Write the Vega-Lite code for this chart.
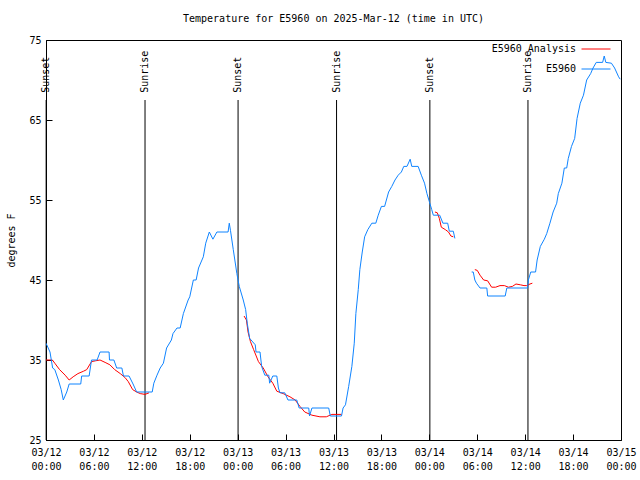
{
  "$schema": "https://vega.github.io/schema/vega-lite/v6.json",
  "width": 575,
  "height": 400,
  "autosize": {"type": "none"},
  "padding": {"left": 46, "top": 40, "right": 19, "bottom": 40},
  "title": {"text": "Temperature for E5960 on 2025-Mar-12 (time in UTC)", "font": "DejaVu Sans Mono", "fontSize": 10, "fontWeight": "normal", "color": "black", "offset": 10, "anchor": "middle"},
  "config": {
    "view": {"stroke": "black", "strokeWidth": 1},
    "axis": {"labelFont": "DejaVu Sans Mono", "labelFontSize": 10, "labelColor": "black", "titleFont": "DejaVu Sans Mono", "titleFontSize": 10, "titleFontWeight": "normal", "titleColor": "black", "domainColor": "black", "tickColor": "black", "grid": false},
    "legend": {"labelFont": "DejaVu Sans Mono", "labelFontSize": 10, "labelColor": "black"}
  },
  "datasets": {
    "sun": [
      {"t": "2025-03-12T00:01Z", "event": "Sunset"},
      {"t": "2025-03-12T12:24Z", "event": "Sunrise"},
      {"t": "2025-03-13T00:03Z", "event": "Sunset"},
      {"t": "2025-03-13T12:23Z", "event": "Sunrise"},
      {"t": "2025-03-14T00:04Z", "event": "Sunset"},
      {"t": "2025-03-14T12:21Z", "event": "Sunrise"}
    ],
    "analysis": [
      {"t": "2025-03-12T00:00Z", "v": 35.0, "seg": 1},
      {"t": "2025-03-12T00:48Z", "v": 35.0, "seg": 1},
      {"t": "2025-03-12T01:06Z", "v": 34.6, "seg": 1},
      {"t": "2025-03-12T01:42Z", "v": 33.8, "seg": 1},
      {"t": "2025-03-12T02:24Z", "v": 33.1, "seg": 1},
      {"t": "2025-03-12T02:54Z", "v": 32.5, "seg": 1},
      {"t": "2025-03-12T03:24Z", "v": 32.9, "seg": 1},
      {"t": "2025-03-12T04:00Z", "v": 33.3, "seg": 1},
      {"t": "2025-03-12T04:42Z", "v": 33.6, "seg": 1},
      {"t": "2025-03-12T05:06Z", "v": 33.8, "seg": 1},
      {"t": "2025-03-12T05:42Z", "v": 34.8, "seg": 1},
      {"t": "2025-03-12T06:12Z", "v": 34.9, "seg": 1},
      {"t": "2025-03-12T06:46Z", "v": 35.0, "seg": 1},
      {"t": "2025-03-12T07:24Z", "v": 34.7, "seg": 1},
      {"t": "2025-03-12T08:00Z", "v": 34.4, "seg": 1},
      {"t": "2025-03-12T08:36Z", "v": 33.8, "seg": 1},
      {"t": "2025-03-12T09:18Z", "v": 33.3, "seg": 1},
      {"t": "2025-03-12T09:54Z", "v": 32.8, "seg": 1},
      {"t": "2025-03-12T10:18Z", "v": 32.3, "seg": 1},
      {"t": "2025-03-12T10:51Z", "v": 31.3, "seg": 1},
      {"t": "2025-03-12T11:21Z", "v": 31.0, "seg": 1},
      {"t": "2025-03-12T11:48Z", "v": 30.8, "seg": 1},
      {"t": "2025-03-12T12:24Z", "v": 30.7, "seg": 1},
      {"t": "2025-03-12T12:54Z", "v": 30.9, "seg": 1},
      {"t": "2025-03-13T00:48Z", "v": 40.5, "seg": 2},
      {"t": "2025-03-13T01:06Z", "v": 40.0, "seg": 2},
      {"t": "2025-03-13T01:18Z", "v": 38.5, "seg": 2},
      {"t": "2025-03-13T01:36Z", "v": 37.3, "seg": 2},
      {"t": "2025-03-13T02:00Z", "v": 36.3, "seg": 2},
      {"t": "2025-03-13T02:36Z", "v": 34.8, "seg": 2},
      {"t": "2025-03-13T03:12Z", "v": 34.0, "seg": 2},
      {"t": "2025-03-13T03:48Z", "v": 32.9, "seg": 2},
      {"t": "2025-03-13T04:24Z", "v": 32.1, "seg": 2},
      {"t": "2025-03-13T04:54Z", "v": 31.1, "seg": 2},
      {"t": "2025-03-13T05:42Z", "v": 30.8, "seg": 2},
      {"t": "2025-03-13T06:33Z", "v": 30.4, "seg": 2},
      {"t": "2025-03-13T07:12Z", "v": 30.0, "seg": 2},
      {"t": "2025-03-13T07:48Z", "v": 29.2, "seg": 2},
      {"t": "2025-03-13T08:24Z", "v": 28.5, "seg": 2},
      {"t": "2025-03-13T09:18Z", "v": 28.1, "seg": 2},
      {"t": "2025-03-13T10:18Z", "v": 27.9, "seg": 2},
      {"t": "2025-03-13T11:06Z", "v": 27.9, "seg": 2},
      {"t": "2025-03-13T11:48Z", "v": 28.2, "seg": 2},
      {"t": "2025-03-13T13:00Z", "v": 28.2, "seg": 2},
      {"t": "2025-03-14T00:42Z", "v": 53.5, "seg": 3},
      {"t": "2025-03-14T01:00Z", "v": 53.4, "seg": 3},
      {"t": "2025-03-14T01:15Z", "v": 52.7, "seg": 3},
      {"t": "2025-03-14T01:30Z", "v": 51.6, "seg": 3},
      {"t": "2025-03-14T02:00Z", "v": 51.3, "seg": 3},
      {"t": "2025-03-14T02:24Z", "v": 51.0, "seg": 3},
      {"t": "2025-03-14T02:42Z", "v": 50.5, "seg": 3},
      {"t": "2025-03-14T03:00Z", "v": 50.4, "seg": 3},
      {"t": "2025-03-14T05:42Z", "v": 46.3, "seg": 4},
      {"t": "2025-03-14T06:00Z", "v": 46.2, "seg": 4},
      {"t": "2025-03-14T06:21Z", "v": 45.6, "seg": 4},
      {"t": "2025-03-14T06:48Z", "v": 45.0, "seg": 4},
      {"t": "2025-03-14T07:18Z", "v": 44.9, "seg": 4},
      {"t": "2025-03-14T07:48Z", "v": 44.1, "seg": 4},
      {"t": "2025-03-14T08:18Z", "v": 44.1, "seg": 4},
      {"t": "2025-03-14T08:51Z", "v": 44.3, "seg": 4},
      {"t": "2025-03-14T09:24Z", "v": 44.3, "seg": 4},
      {"t": "2025-03-14T09:54Z", "v": 44.1, "seg": 4},
      {"t": "2025-03-14T10:24Z", "v": 44.2, "seg": 4},
      {"t": "2025-03-14T10:51Z", "v": 44.5, "seg": 4},
      {"t": "2025-03-14T11:24Z", "v": 44.4, "seg": 4},
      {"t": "2025-03-14T11:51Z", "v": 44.3, "seg": 4},
      {"t": "2025-03-14T12:12Z", "v": 44.3, "seg": 4},
      {"t": "2025-03-14T12:36Z", "v": 44.5, "seg": 4},
      {"t": "2025-03-14T12:54Z", "v": 44.6, "seg": 4}
    ],
    "obs": [
      {"t": "2025-03-12T00:00Z", "v": 37.1, "seg": 1},
      {"t": "2025-03-12T00:30Z", "v": 36.0, "seg": 1},
      {"t": "2025-03-12T00:50Z", "v": 34.0, "seg": 1},
      {"t": "2025-03-12T01:06Z", "v": 33.8, "seg": 1},
      {"t": "2025-03-12T01:33Z", "v": 32.5, "seg": 1},
      {"t": "2025-03-12T01:54Z", "v": 31.3, "seg": 1},
      {"t": "2025-03-12T02:10Z", "v": 30.0, "seg": 1},
      {"t": "2025-03-12T02:36Z", "v": 31.0, "seg": 1},
      {"t": "2025-03-12T02:54Z", "v": 32.0, "seg": 1},
      {"t": "2025-03-12T04:21Z", "v": 32.0, "seg": 1},
      {"t": "2025-03-12T04:28Z", "v": 33.0, "seg": 1},
      {"t": "2025-03-12T05:24Z", "v": 33.0, "seg": 1},
      {"t": "2025-03-12T05:42Z", "v": 35.0, "seg": 1},
      {"t": "2025-03-12T06:24Z", "v": 35.0, "seg": 1},
      {"t": "2025-03-12T06:46Z", "v": 36.0, "seg": 1},
      {"t": "2025-03-12T07:54Z", "v": 36.0, "seg": 1},
      {"t": "2025-03-12T07:57Z", "v": 35.0, "seg": 1},
      {"t": "2025-03-12T08:30Z", "v": 35.0, "seg": 1},
      {"t": "2025-03-12T08:51Z", "v": 34.0, "seg": 1},
      {"t": "2025-03-12T09:30Z", "v": 34.0, "seg": 1},
      {"t": "2025-03-12T09:42Z", "v": 33.0, "seg": 1},
      {"t": "2025-03-12T10:24Z", "v": 33.0, "seg": 1},
      {"t": "2025-03-12T10:54Z", "v": 32.0, "seg": 1},
      {"t": "2025-03-12T11:21Z", "v": 31.0, "seg": 1},
      {"t": "2025-03-12T13:18Z", "v": 31.0, "seg": 1},
      {"t": "2025-03-12T13:30Z", "v": 32.1, "seg": 1},
      {"t": "2025-03-12T13:54Z", "v": 33.1, "seg": 1},
      {"t": "2025-03-12T14:18Z", "v": 34.0, "seg": 1},
      {"t": "2025-03-12T14:42Z", "v": 34.6, "seg": 1},
      {"t": "2025-03-12T15:06Z", "v": 36.5, "seg": 1},
      {"t": "2025-03-12T15:42Z", "v": 37.5, "seg": 1},
      {"t": "2025-03-12T15:54Z", "v": 38.3, "seg": 1},
      {"t": "2025-03-12T16:24Z", "v": 39.0, "seg": 1},
      {"t": "2025-03-12T16:48Z", "v": 39.0, "seg": 1},
      {"t": "2025-03-12T17:12Z", "v": 40.8, "seg": 1},
      {"t": "2025-03-12T17:48Z", "v": 42.5, "seg": 1},
      {"t": "2025-03-12T18:00Z", "v": 42.9, "seg": 1},
      {"t": "2025-03-12T18:27Z", "v": 45.0, "seg": 1},
      {"t": "2025-03-12T18:48Z", "v": 45.0, "seg": 1},
      {"t": "2025-03-12T19:06Z", "v": 46.5, "seg": 1},
      {"t": "2025-03-12T19:42Z", "v": 47.9, "seg": 1},
      {"t": "2025-03-12T20:00Z", "v": 49.6, "seg": 1},
      {"t": "2025-03-12T20:27Z", "v": 51.0, "seg": 1},
      {"t": "2025-03-12T20:54Z", "v": 50.1, "seg": 1},
      {"t": "2025-03-12T21:24Z", "v": 51.0, "seg": 1},
      {"t": "2025-03-12T22:48Z", "v": 51.0, "seg": 1},
      {"t": "2025-03-12T22:57Z", "v": 52.1, "seg": 1},
      {"t": "2025-03-12T23:06Z", "v": 51.2, "seg": 1},
      {"t": "2025-03-12T23:27Z", "v": 48.8, "seg": 1},
      {"t": "2025-03-12T23:54Z", "v": 45.8, "seg": 1},
      {"t": "2025-03-13T00:12Z", "v": 44.2, "seg": 1},
      {"t": "2025-03-13T00:42Z", "v": 42.5, "seg": 1},
      {"t": "2025-03-13T01:00Z", "v": 41.3, "seg": 1},
      {"t": "2025-03-13T01:12Z", "v": 39.6, "seg": 1},
      {"t": "2025-03-13T01:30Z", "v": 37.7, "seg": 1},
      {"t": "2025-03-13T02:12Z", "v": 36.9, "seg": 1},
      {"t": "2025-03-13T02:18Z", "v": 36.0, "seg": 1},
      {"t": "2025-03-13T02:48Z", "v": 36.0, "seg": 1},
      {"t": "2025-03-13T03:00Z", "v": 34.2, "seg": 1},
      {"t": "2025-03-13T03:24Z", "v": 33.1, "seg": 1},
      {"t": "2025-03-13T03:54Z", "v": 33.1, "seg": 1},
      {"t": "2025-03-13T04:00Z", "v": 32.1, "seg": 1},
      {"t": "2025-03-13T04:24Z", "v": 33.0, "seg": 1},
      {"t": "2025-03-13T04:54Z", "v": 33.0, "seg": 1},
      {"t": "2025-03-13T05:06Z", "v": 31.5, "seg": 1},
      {"t": "2025-03-13T05:18Z", "v": 30.9, "seg": 1},
      {"t": "2025-03-13T05:54Z", "v": 30.9, "seg": 1},
      {"t": "2025-03-13T06:18Z", "v": 30.0, "seg": 1},
      {"t": "2025-03-13T07:24Z", "v": 30.0, "seg": 1},
      {"t": "2025-03-13T07:42Z", "v": 29.0, "seg": 1},
      {"t": "2025-03-13T08:54Z", "v": 29.0, "seg": 1},
      {"t": "2025-03-13T09:00Z", "v": 28.0, "seg": 1},
      {"t": "2025-03-13T09:18Z", "v": 29.0, "seg": 1},
      {"t": "2025-03-13T11:24Z", "v": 29.0, "seg": 1},
      {"t": "2025-03-13T11:36Z", "v": 28.0, "seg": 1},
      {"t": "2025-03-13T13:00Z", "v": 28.0, "seg": 1},
      {"t": "2025-03-13T13:12Z", "v": 29.0, "seg": 1},
      {"t": "2025-03-13T13:30Z", "v": 29.4, "seg": 1},
      {"t": "2025-03-13T13:54Z", "v": 31.7, "seg": 1},
      {"t": "2025-03-13T14:18Z", "v": 34.2, "seg": 1},
      {"t": "2025-03-13T14:36Z", "v": 37.1, "seg": 1},
      {"t": "2025-03-13T14:48Z", "v": 40.8, "seg": 1},
      {"t": "2025-03-13T15:06Z", "v": 43.8, "seg": 1},
      {"t": "2025-03-13T15:18Z", "v": 46.3, "seg": 1},
      {"t": "2025-03-13T15:36Z", "v": 48.5, "seg": 1},
      {"t": "2025-03-13T15:54Z", "v": 50.4, "seg": 1},
      {"t": "2025-03-13T16:18Z", "v": 51.3, "seg": 1},
      {"t": "2025-03-13T16:48Z", "v": 52.1, "seg": 1},
      {"t": "2025-03-13T17:18Z", "v": 52.1, "seg": 1},
      {"t": "2025-03-13T17:36Z", "v": 53.1, "seg": 1},
      {"t": "2025-03-13T18:00Z", "v": 54.2, "seg": 1},
      {"t": "2025-03-13T18:24Z", "v": 54.2, "seg": 1},
      {"t": "2025-03-13T18:54Z", "v": 56.0, "seg": 1},
      {"t": "2025-03-13T19:18Z", "v": 56.7, "seg": 1},
      {"t": "2025-03-13T19:42Z", "v": 57.5, "seg": 1},
      {"t": "2025-03-13T20:06Z", "v": 58.1, "seg": 1},
      {"t": "2025-03-13T20:30Z", "v": 58.5, "seg": 1},
      {"t": "2025-03-13T20:48Z", "v": 59.2, "seg": 1},
      {"t": "2025-03-13T21:12Z", "v": 59.2, "seg": 1},
      {"t": "2025-03-13T21:36Z", "v": 60.1, "seg": 1},
      {"t": "2025-03-13T21:48Z", "v": 59.2, "seg": 1},
      {"t": "2025-03-13T22:36Z", "v": 59.2, "seg": 1},
      {"t": "2025-03-13T23:00Z", "v": 58.1, "seg": 1},
      {"t": "2025-03-13T23:24Z", "v": 57.1, "seg": 1},
      {"t": "2025-03-13T23:42Z", "v": 55.8, "seg": 1},
      {"t": "2025-03-14T00:00Z", "v": 54.8, "seg": 1},
      {"t": "2025-03-14T00:18Z", "v": 53.8, "seg": 1},
      {"t": "2025-03-14T00:30Z", "v": 53.1, "seg": 1},
      {"t": "2025-03-14T01:18Z", "v": 53.1, "seg": 1},
      {"t": "2025-03-14T01:42Z", "v": 52.1, "seg": 1},
      {"t": "2025-03-14T02:18Z", "v": 52.1, "seg": 1},
      {"t": "2025-03-14T02:30Z", "v": 51.1, "seg": 1},
      {"t": "2025-03-14T03:00Z", "v": 51.1, "seg": 1},
      {"t": "2025-03-14T03:12Z", "v": 50.2, "seg": 1},
      {"t": "2025-03-14T05:18Z", "v": 46.0, "seg": 2},
      {"t": "2025-03-14T05:30Z", "v": 46.0, "seg": 2},
      {"t": "2025-03-14T05:42Z", "v": 45.0, "seg": 2},
      {"t": "2025-03-14T05:54Z", "v": 44.6, "seg": 2},
      {"t": "2025-03-14T06:21Z", "v": 44.0, "seg": 2},
      {"t": "2025-03-14T07:12Z", "v": 44.0, "seg": 2},
      {"t": "2025-03-14T07:18Z", "v": 43.0, "seg": 2},
      {"t": "2025-03-14T09:30Z", "v": 43.0, "seg": 2},
      {"t": "2025-03-14T09:42Z", "v": 44.0, "seg": 2},
      {"t": "2025-03-14T12:18Z", "v": 44.0, "seg": 2},
      {"t": "2025-03-14T12:24Z", "v": 45.0, "seg": 2},
      {"t": "2025-03-14T12:42Z", "v": 46.0, "seg": 2},
      {"t": "2025-03-14T13:18Z", "v": 46.0, "seg": 2},
      {"t": "2025-03-14T13:30Z", "v": 47.5, "seg": 2},
      {"t": "2025-03-14T13:54Z", "v": 49.2, "seg": 2},
      {"t": "2025-03-14T14:24Z", "v": 50.1, "seg": 2},
      {"t": "2025-03-14T14:42Z", "v": 50.8, "seg": 2},
      {"t": "2025-03-14T15:06Z", "v": 52.1, "seg": 2},
      {"t": "2025-03-14T15:30Z", "v": 53.5, "seg": 2},
      {"t": "2025-03-14T15:57Z", "v": 54.6, "seg": 2},
      {"t": "2025-03-14T16:09Z", "v": 55.8, "seg": 2},
      {"t": "2025-03-14T16:36Z", "v": 57.1, "seg": 2},
      {"t": "2025-03-14T16:54Z", "v": 59.0, "seg": 2},
      {"t": "2025-03-14T17:12Z", "v": 59.0, "seg": 2},
      {"t": "2025-03-14T17:24Z", "v": 60.2, "seg": 2},
      {"t": "2025-03-14T17:48Z", "v": 61.7, "seg": 2},
      {"t": "2025-03-14T18:12Z", "v": 62.7, "seg": 2},
      {"t": "2025-03-14T18:30Z", "v": 65.2, "seg": 2},
      {"t": "2025-03-14T18:54Z", "v": 67.1, "seg": 2},
      {"t": "2025-03-14T19:18Z", "v": 68.1, "seg": 2},
      {"t": "2025-03-14T19:42Z", "v": 70.0, "seg": 2},
      {"t": "2025-03-14T20:12Z", "v": 70.8, "seg": 2},
      {"t": "2025-03-14T20:30Z", "v": 71.5, "seg": 2},
      {"t": "2025-03-14T20:54Z", "v": 72.2, "seg": 2},
      {"t": "2025-03-14T21:42Z", "v": 72.2, "seg": 2},
      {"t": "2025-03-14T21:54Z", "v": 73.0, "seg": 2},
      {"t": "2025-03-14T22:06Z", "v": 72.2, "seg": 2},
      {"t": "2025-03-14T22:48Z", "v": 72.1, "seg": 2},
      {"t": "2025-03-14T23:12Z", "v": 71.5, "seg": 2},
      {"t": "2025-03-14T23:42Z", "v": 70.4, "seg": 2},
      {"t": "2025-03-14T23:54Z", "v": 70.1, "seg": 2}
    ]
  },
  "layer": [
    {
      "data": {"name": "sun"},
      "mark": {"type": "rule", "color": "black", "strokeWidth": 1},
      "encoding": {
        "x": {"field": "t", "type": "temporal", "title": null},
        "y": {"datum": 25, "type": "quantitative"},
        "y2": {"datum": 67.5}
      }
    },
    {
      "data": {"name": "sun"},
      "mark": {"type": "text", "angle": 270, "align": "left", "baseline": "middle", "font": "DejaVu Sans Mono", "fontSize": 10, "color": "black"},
      "encoding": {
        "x": {"field": "t", "type": "temporal", "title": null},
        "y": {"datum": 68.4, "type": "quantitative"},
        "text": {"field": "event", "type": "nominal"}
      }
    },
    {
      "data": {"name": "analysis"},
      "mark": {"type": "line", "strokeWidth": 1, "clip": true},
      "encoding": {
        "x": {
          "field": "t", "type": "temporal", "title": null,
          "scale": {"type": "utc", "domain": [{"year": 2025, "month": 3, "date": 12, "utc": true}, {"year": 2025, "month": 3, "date": 15, "utc": true}], "nice": false},
          "axis": {"orient": "bottom",
            "values": [
              {"year": 2025, "month": 3, "date": 12, "hours": 0, "utc": true},
              {"year": 2025, "month": 3, "date": 12, "hours": 6, "utc": true},
              {"year": 2025, "month": 3, "date": 12, "hours": 12, "utc": true},
              {"year": 2025, "month": 3, "date": 12, "hours": 18, "utc": true},
              {"year": 2025, "month": 3, "date": 13, "hours": 0, "utc": true},
              {"year": 2025, "month": 3, "date": 13, "hours": 6, "utc": true},
              {"year": 2025, "month": 3, "date": 13, "hours": 12, "utc": true},
              {"year": 2025, "month": 3, "date": 13, "hours": 18, "utc": true},
              {"year": 2025, "month": 3, "date": 14, "hours": 0, "utc": true},
              {"year": 2025, "month": 3, "date": 14, "hours": 6, "utc": true},
              {"year": 2025, "month": 3, "date": 14, "hours": 12, "utc": true},
              {"year": 2025, "month": 3, "date": 14, "hours": 18, "utc": true},
              {"year": 2025, "month": 3, "date": 15, "hours": 0, "utc": true}
            ],
            "labelExpr": "[utcFormat(datum.value, '%m/%d'), utcFormat(datum.value, '%H:%M')]", "labelOverlap": false, "labelFlush": false, "labelLineHeight": 14, "labelPadding": 13, "tickSize": -6}
        },
        "y": {
          "field": "v", "type": "quantitative", "title": "degrees F",
          "scale": {"domain": [25, 75], "nice": false, "zero": false},
          "axis": {"orient": "left", "values": [25, 30, 35, 40, 45, 50, 55, 60, 65, 70, 75], "tickSize": -6, "labelPadding": 11, "titlePadding": 12}
        },
        "color": {"datum": "E5960 Analysis", "type": "nominal", "scale": {"domain": ["E5960 Analysis", "E5960"], "range": ["#ff0000", "#0f84ff"]}, "legend": {"title": null, "orient": "none", "legendX": 535, "legendY": -6, "symbolType": "stroke", "symbolSize": 841, "symbolStrokeWidth": 1, "labelAlign": "right", "labelOffset": -35, "rowPadding": -15, "padding": 0}},
        "detail": {"field": "seg", "type": "nominal"}
      }
    },
    {
      "data": {"name": "obs"},
      "mark": {"type": "line", "strokeWidth": 1, "clip": true},
      "encoding": {
        "x": {"field": "t", "type": "temporal", "title": null},
        "y": {"field": "v", "type": "quantitative", "title": "degrees F"},
        "color": {"datum": "E5960", "type": "nominal"},
        "detail": {"field": "seg", "type": "nominal"}
      }
    }
  ]
}
